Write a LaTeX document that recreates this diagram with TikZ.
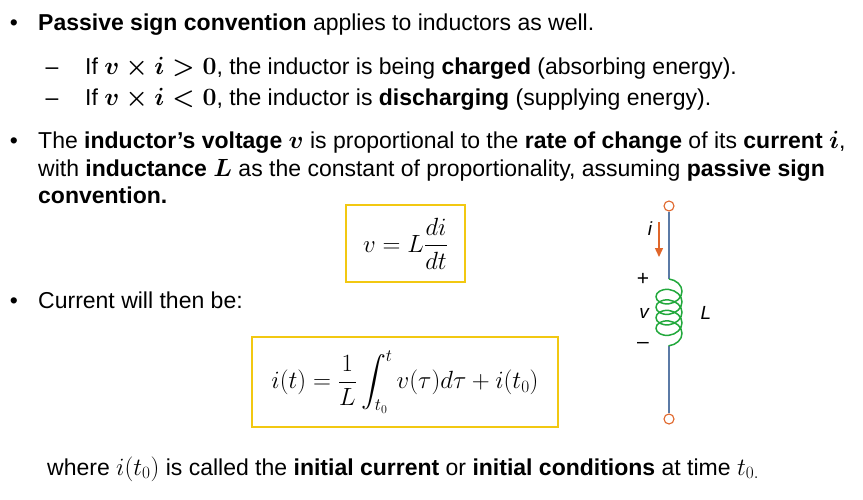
\documentclass[tikz,border=0pt]{standalone}
\usepackage{amsmath}
\usepackage{fontspec}
\setmainfont{Liberation Sans}
\usetikzlibrary{positioning,decorations.pathmorphing,arrows.meta}
\definecolor{boxyellow}{HTML}{F2C811}
\definecolor{arrorange}{HTML}{E0662A}
\definecolor{coilgreen}{HTML}{22A83C}
\definecolor{wireblue}{HTML}{5B7AA6}
\tikzset{
  txt/.style={anchor=base west, inner sep=0pt, font=\fontsize{23}{27}\selectfont},
  bul/.style={anchor=base, inner sep=0pt, font=\fontsize{23}{27}\selectfont},
  eqbox/.style={draw=boxyellow, line width=1.8pt, inner sep=0pt},
  term/.style={circle, draw=arrorange, fill=white, line width=1.1pt, inner sep=0pt, minimum size=10pt},
  wire/.style={draw=wireblue, line width=1.4pt},
}
\begin{document}
\begin{tikzpicture}[x=1pt,y=-1pt]
  \useasboundingbox (0,0) rectangle (863,499);
  % bullets
  \node[bul] (b1) at (14,30) {\textbullet};
  \node[txt] (t1) at (38,30) {\textbf{Passive sign convention} applies to inductors as well.};
  \node[bul] (d1) at (52,74) {--};
  \node[txt] (t2) at (85,74) {If $\boldsymbol{v\times i>0}$, the inductor is being \textbf{charged} (absorbing energy).};
  \node[bul] (d2) at (52,105) {--};
  \node[txt] (t3) at (85,105) {If $\boldsymbol{v\times i<0}$, the inductor is \textbf{discharging} (supplying energy).};
  \node[bul] (b2) at (14,148) {\textbullet};
  \node[txt] (t4) at (38,148) {The \textbf{inductor's voltage} $\boldsymbol{v}$ is proportional to the \textbf{rate of change} of its \textbf{current} $\boldsymbol{i}$,};
  \node[txt] (t5) at (38,176) {with \textbf{inductance} $\boldsymbol{L}$ as the constant of proportionality, assuming \textbf{passive sign}};
  \node[txt] (t6) at (38,203) {\textbf{convention.}};
  \node[bul] (b3) at (14,308) {\textbullet};
  \node[txt] (t7) at (38,308) {Current will then be:};
  \node[txt] (t8) at (47,475) {where $i(t_0)$ is called the \textbf{initial current} or \textbf{initial conditions} at time $t_{0.}$};
  % equations
  \draw[eqbox] (346,205) rectangle (465,282);
  \node[font=\fontsize{26}{30}\selectfont] (eq1) at (405.5,243.5) {$v = L\dfrac{di}{dt}$};
  \draw[eqbox] (252,337) rectangle (558,427);
  \node[font=\fontsize{25.5}{30}\selectfont] (eq2) at (405,382) {$i(t) = \dfrac{1}{L}\displaystyle\int_{t_0}^{t} v(\tau)d\tau + i(t_0)$};
  % inductor
  \node[term] (top) at (669,206) {};
  \node[term] (bot) at (669,419) {};
  \coordinate (c1) at (669,279);
  \coordinate (c2) at (669,346);
  \draw[wire] (top) -- (c1);
  \draw[wire] (c2) -- (bot);
  \draw[coilgreen, line width=1.5pt, decorate,
    decoration={coil, aspect=0.75, segment length=10.5pt, amplitude=13pt, pre length=0pt, post length=0pt}]
    (c1) -- (c2);
  \draw[arrorange, line width=1.4pt, -{Triangle[length=9pt,width=8pt]}] (659,222) -- (659,257);
  \node[font=\fontsize{19}{22}\selectfont\itshape] (il) at (650,229) {i};
  \node[font=\fontsize{21}{22}\selectfont] (pl) at (643,279) {+};
  \node[font=\fontsize{19}{22}\selectfont\itshape] (vl) at (644,313) {v};
  \node[font=\fontsize{21}{22}\selectfont] (ml) at (643,345) {--};
  \node[font=\fontsize{19}{22}\selectfont\itshape] (Ll) at (706,313) {L};
\end{tikzpicture}
\end{document}
